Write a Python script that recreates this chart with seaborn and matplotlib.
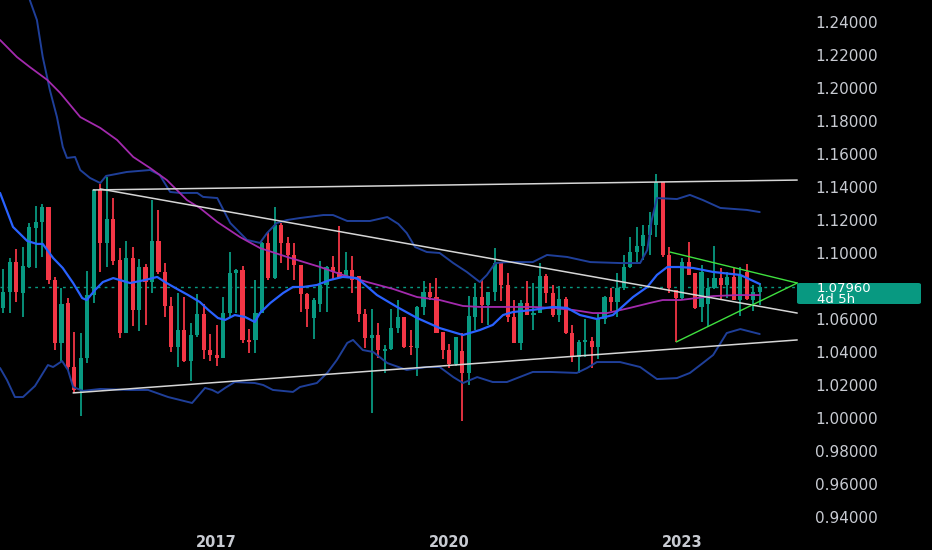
import matplotlib
matplotlib.use("Agg")
import matplotlib.pyplot as plt
from matplotlib.patches import FancyBboxPatch
import seaborn as sns
import pandas as pd
import numpy as np

# monthly candles, Apr 2014 .. Jan 2024
opens = [1.0665, 1.0766, 1.0945, 1.0756, 1.0917, 1.1150, 1.1190, 1.1277, 1.0836, 1.0457,
         1.0695, 1.0311, 1.0170, 1.0366, 1.0746, 1.1382, 1.1063, 1.1206, 1.0958, 1.0517,
         1.0968, 1.0655, 1.0913, 1.0822, 1.1073, 1.0887, 1.0679, 1.0432, 1.0533, 1.0348,
         1.0503, 1.0630, 1.0412, 1.0382, 1.0362, 1.0634, 1.0877, 1.0897, 1.0473, 1.0473,
         1.0638, 1.1063, 1.0851, 1.1170, 1.1063, 1.0988, 1.0927, 1.0752, 1.0604, 1.0689,
         1.0806, 1.0917, 1.0887, 1.0853, 1.0897, 1.0861, 1.0630, 1.0487, 1.0503, 1.0408,
         1.0416, 1.0547, 1.0614, 1.0438, 1.0422, 1.0675, 1.0766, 1.0735, 1.0519, 1.0412,
         1.0327, 1.0408, 1.0275, 1.0614, 1.0735, 1.0685, 1.0761, 1.0941, 1.0806, 1.0614,
         1.0452, 1.0699, 1.0624, 1.0638, 1.0860, 1.0759, 1.0624, 1.0719, 1.0513, 1.0372,
         1.0463, 1.0469, 1.0432, 1.0598, 1.0735, 1.0705, 1.0786, 1.0918, 1.1009, 1.1043,
         1.1109, 1.1170, 1.1433, 1.0988, 1.0776, 1.0725, 1.0947, 1.0877, 1.0675, 1.0689,
         1.0786, 1.0846, 1.0806, 1.0856, 1.0715, 1.0887, 1.0715, 1.0762]
highs = [1.0901, 1.0968, 1.1024, 1.1034, 1.1180, 1.1285, 1.1295, 1.1277, 1.0853, 1.0786,
         1.0725, 1.0519, 1.0513, 1.0891, 1.1386, 1.1418, 1.1463, 1.1335, 1.1028, 1.1073,
         1.1038, 1.0962, 1.0933, 1.1321, 1.1261, 1.0937, 1.0731, 1.0760, 1.0735, 1.0574,
         1.0752, 1.0691, 1.0507, 1.0564, 1.0735, 1.1008, 1.0903, 1.0923, 1.0537, 1.0836,
         1.1069, 1.1129, 1.1281, 1.1184, 1.1099, 1.1059, 1.0927, 1.0756, 1.0725, 1.0954,
         1.0921, 1.0982, 1.1164, 1.1008, 1.0982, 1.0861, 1.0659, 1.0659, 1.0574, 1.0442,
         1.0658, 1.0715, 1.0614, 1.0533, 1.0679, 1.0830, 1.0816, 1.0850, 1.0519, 1.0448,
         1.0493, 1.0517, 1.0739, 1.0816, 1.0836, 1.0761, 1.1032, 1.0947, 1.0881, 1.0715,
         1.0715, 1.0830, 1.0816, 1.0937, 1.0873, 1.0806, 1.0800, 1.0731, 1.0564, 1.0473,
         1.0600, 1.0489, 1.0630, 1.0739, 1.0786, 1.0877, 1.0988, 1.1099, 1.1160, 1.1170,
         1.1251, 1.1479, 1.1433, 1.1035, 1.0776, 1.0972, 1.1069, 1.0877, 1.0927, 1.0846,
         1.1044, 1.0907, 1.0883, 1.0907, 1.0917, 1.0931, 1.0806, 1.0816]
lows = [1.0634, 1.0638, 1.0705, 1.0614, 1.0907, 1.0907, 1.0974, 1.0812, 1.0412, 1.0348,
        1.0291, 1.0150, 1.0012, 1.0335, 1.0695, 1.0887, 1.0913, 1.0927, 1.0487, 1.0513,
        1.0558, 1.0529, 1.0564, 1.0756, 1.0873, 1.0614, 1.0398, 1.0307, 1.0338, 1.0226,
        1.0493, 1.0356, 1.0348, 1.0317, 1.0362, 1.0614, 1.0634, 1.0457, 1.0392, 1.0392,
        1.0634, 1.0836, 1.0841, 1.0941, 1.0897, 1.0836, 1.0645, 1.0554, 1.0477, 1.0645,
        1.0645, 1.0836, 1.0847, 1.0853, 1.0756, 1.0580, 1.0422, 1.0033, 1.0362, 1.0271,
        1.0412, 1.0513, 1.0422, 1.0382, 1.0256, 1.0624, 1.0715, 1.0517, 1.0355, 1.0301,
        1.0317, 0.9984, 1.0200, 1.0533, 1.0578, 1.0563, 1.0709, 1.0709, 1.0584, 1.0452,
        1.0412, 1.0624, 1.0533, 1.0634, 1.0699, 1.0614, 1.0584, 1.0509, 1.0341, 1.0271,
        1.0372, 1.0305, 1.0355, 1.0570, 1.0650, 1.0614, 1.0776, 1.0908, 1.0948, 1.0958,
        1.0988, 1.1099, 1.0978, 1.0755, 1.0463, 1.0715, 1.0867, 1.0661, 1.0580, 1.0554,
        1.0782, 1.0721, 1.0725, 1.0715, 1.0620, 1.0715, 1.0648, 1.0685]
closes = [1.0766, 1.0945, 1.0766, 1.0923, 1.1156, 1.1190, 1.1277, 1.0836, 1.0457, 1.0691,
          1.0311, 1.0170, 1.0366, 1.0746, 1.1382, 1.1063, 1.1206, 1.0954, 1.0517, 1.0968,
          1.0655, 1.0913, 1.0822, 1.1073, 1.0887, 1.0679, 1.0432, 1.0533, 1.0348, 1.0503,
          1.0630, 1.0412, 1.0382, 1.0362, 1.0634, 1.0877, 1.0897, 1.0473, 1.0463, 1.0638,
          1.1063, 1.0851, 1.1170, 1.1063, 1.0988, 1.0927, 1.0752, 1.0659, 1.0715, 1.0806,
          1.0917, 1.0887, 1.0853, 1.0897, 1.0836, 1.0630, 1.0483, 1.0503, 1.0412, 1.0418,
          1.0547, 1.0614, 1.0432, 1.0432, 1.0675, 1.0766, 1.0735, 1.0517, 1.0412, 1.0327,
          1.0493, 1.0275, 1.0618, 1.0735, 1.0685, 1.0761, 1.0941, 1.0806, 1.0614, 1.0452,
          1.0699, 1.0624, 1.0638, 1.0860, 1.0759, 1.0624, 1.0719, 1.0513, 1.0372, 1.0463,
          1.0469, 1.0432, 1.0598, 1.0735, 1.0705, 1.0786, 1.0918, 1.1009, 1.1043, 1.1109,
          1.1170, 1.1433, 1.0988, 1.0786, 1.0725, 1.0947, 1.0867, 1.0669, 1.0887, 1.0786,
          1.0846, 1.0806, 1.0856, 1.0715, 1.0867, 1.0721, 1.0762, 1.0796]

# indicator lines (bar index, price)
basis_x = [-0.5, 1.5, 3.7, 5.2, 6.1, 7.7, 9.2, 10.8, 12.2, 12.9, 14.2, 15.4, 17.0, 19.6, 21.9,
           23.8, 25.0, 26.6, 28.6, 30.4, 31.7, 33.2, 34.3, 35.8, 37.4, 38.9, 39.7, 41.3, 43.3,
           44.8, 46.4, 48.5, 50.5, 52.5, 54.7, 56.0, 57.8, 60.9, 64.0, 67.5, 71.1, 73.7, 75.7,
           77.3, 78.8, 81.9, 85.0, 87.2, 89.2, 91.8, 94.3, 97.4, 99.6, 101.1, 102.7, 104.7,
           106.7, 109.8, 114.0, 117.0]
basis_y = [1.1364, 1.1158, 1.1073, 1.1055, 1.1055, 1.0970, 1.0909, 1.0818, 1.0727, 1.0715,
           1.0776, 1.0824, 1.0848, 1.0818, 1.0836, 1.0855, 1.0824, 1.0788, 1.0745, 1.0703,
           1.0655, 1.0606, 1.0594, 1.0624, 1.0612, 1.0582, 1.0636, 1.0697, 1.0758, 1.0794,
           1.0794, 1.0806, 1.0836, 1.0855, 1.0848, 1.0806, 1.0745, 1.0673, 1.0606, 1.0545,
           1.0503, 1.0533, 1.0564, 1.0624, 1.0642, 1.0655, 1.0673, 1.0667, 1.0624, 1.0600,
           1.0624, 1.0733, 1.0794, 1.0867, 1.0915, 1.0915, 1.0909, 1.0885, 1.0867, 1.0812]

upper_x = [3.0, 4.1, 5.2, 6.1, 7.2, 8.3, 9.2, 9.85, 11.1, 11.9, 13.4, 15.0, 15.9, 19.1, 22.7,
           24.2, 25.8, 27.3, 30.0, 30.9, 33.1, 35.1, 37.7, 39.7, 40.8, 42.3, 43.9, 45.9, 49.5,
           51.0, 53.2, 56.7, 59.4, 61.1, 62.4, 63.7, 65.5, 67.5, 69.6, 71.7, 73.7, 74.8, 76.1,
           77.9, 81.9, 84.1, 87.2, 90.8, 95.4, 98.5, 99.6, 100.3, 101.1, 104.2, 106.2, 108.2,
           110.9, 115.0, 117.0]
upper_y = [1.2750, 1.2533, 1.2412, 1.2188, 1.1988, 1.1824, 1.1643, 1.1576, 1.1582, 1.1503,
           1.1455, 1.1424, 1.1467, 1.1491, 1.1503, 1.1473, 1.1370, 1.1364, 1.1364, 1.1340,
           1.1333, 1.1182, 1.1079, 1.1061, 1.1121, 1.1182, 1.1200, 1.1212, 1.1230, 1.1230,
           1.1194, 1.1194, 1.1218, 1.1176, 1.1121, 1.1036, 1.1006, 1.1000, 1.0939, 1.0885,
           1.0824, 1.0867, 1.0939, 1.0945, 1.0945, 1.0988, 1.0976, 1.0945, 1.0939, 1.0939,
           1.1018, 1.1200, 1.1333, 1.1327, 1.1352, 1.1321, 1.1273, 1.1261, 1.1248]

lower_x = [-0.5, 0.57, 1.8, 3.05, 4.9, 6.9, 7.7, 9.1, 10.0, 10.8, 12.3, 15.0, 19.6, 22.4, 25.5,
           29.2, 31.2, 32.3, 33.2, 34.3, 35.8, 38.9, 40.2, 41.7, 44.8, 45.9, 48.5, 50.1, 51.6,
           53.2, 54.1, 55.6, 57.2, 59.4, 62.4, 65.5, 67.5, 69.6, 71.1, 73.3, 75.7, 77.9, 81.9,
           84.6, 88.7, 90.3, 91.8, 95.4, 98.5, 101.1, 104.2, 106.2, 108.2, 109.8, 111.9, 114.0,
           117.0]
lower_y = [1.0303, 1.0230, 1.0127, 1.0127, 1.0194, 1.0321, 1.0309, 1.0345, 1.0291, 1.0188,
           1.0164, 1.0176, 1.0170, 1.0170, 1.0127, 1.0091, 1.0182, 1.0170, 1.0152, 1.0182,
           1.0218, 1.0212, 1.0200, 1.0170, 1.0158, 1.0188, 1.0212, 1.0273, 1.0352, 1.0455,
           1.0473, 1.0412, 1.0400, 1.0333, 1.0291, 1.0309, 1.0309, 1.0248, 1.0212, 1.0248,
           1.0218, 1.0218, 1.0279, 1.0279, 1.0273, 1.0303, 1.0339, 1.0339, 1.0309, 1.0236,
           1.0242, 1.0273, 1.0333, 1.0382, 1.0515, 1.0539, 1.0509]

slow_x = [-0.5, 2.1, 4.1, 6.8, 8.8, 11.9, 15.0, 17.6, 20.1, 22.7, 25.3, 28.4, 30.4, 33.1, 36.6,
          39.7, 43.9, 49.0, 52.5, 56.3, 60.3, 64.0, 67.5, 71.1, 73.7, 76.8, 81.9, 85.0, 88.1,
          91.2, 93.4, 96.9, 100.0, 102.0, 104.7, 109.8, 113.5, 117.0]
slow_y = [1.2291, 1.2188, 1.2127, 1.2049, 1.1970, 1.1824, 1.1758, 1.1685, 1.1582, 1.1515,
          1.1442, 1.1321, 1.1273, 1.1188, 1.1097, 1.1030, 1.0976, 1.0915, 1.0867, 1.0824,
          1.0782, 1.0733, 1.0715, 1.0679, 1.0673, 1.0673, 1.0673, 1.0667, 1.0655, 1.0636,
          1.0636, 1.0667, 1.0697, 1.0715, 1.0715, 1.0739, 1.0745, 1.0745]

# drawn trendlines: (x0, y0, x1, y1)
white_lines = [(13.9, 1.1382, 122.8, 1.1442),
               (15.0, 1.1388, 122.8, 1.0636),
               (10.8, 1.0152, 122.8, 1.0473)]
green_lines = [(103.1, 1.1006, 122.8, 1.0818),
               (104.1, 1.0461, 122.8, 1.0818)]

price_ticks = [1.24, 1.22, 1.20, 1.18, 1.16, 1.14, 1.12, 1.10, 1.06, 1.04, 1.02,
               1.00, 0.98, 0.96, 0.94]
year_labels = [2017, 2020, 2023]
countdown = "4d 5h"

UP, DOWN = "#089981", "#f23645"

df = pd.DataFrame({"date": pd.date_range("2014-04-01", periods=len(opens), freq="MS"),
                   "open": opens, "high": highs, "low": lows, "close": closes})
df["i"] = np.arange(len(df))
df["up"] = df["close"] >= df["open"]
df["col"] = np.where(df["up"], UP, DOWN)

sns.set_theme(style="dark", rc={"axes.facecolor": "black", "figure.facecolor": "black"})
plt.rcParams["font.family"] = ["DejaVu Sans"]

fig = plt.figure(figsize=(9.32, 5.5), dpi=100)
ax = fig.add_axes([0, 22 / 550, 800 / 932, 528 / 550])
ax.set_facecolor("black")

# candles
ax.vlines(df["i"], df["low"], df["high"], colors=df["col"], linewidth=1.3, zorder=2)
body = (df["close"] - df["open"]).abs().clip(lower=0.0007)
ax.bar(df["i"], body, bottom=df[["open", "close"]].min(axis=1), width=0.64,
       color=df["col"], linewidth=0, zorder=3)

# indicators
sns.lineplot(x=upper_x, y=upper_y, ax=ax, color="#1f3f99", lw=1.4, zorder=4, estimator=None)
sns.lineplot(x=lower_x, y=lower_y, ax=ax, color="#1f3f99", lw=1.4, zorder=4, estimator=None)
sns.lineplot(x=slow_x, y=slow_y, ax=ax, color="#a32aad", lw=1.3, zorder=4, estimator=None)
sns.lineplot(x=basis_x, y=basis_y, ax=ax, color="#2962ff", lw=1.6, zorder=5, estimator=None)

for x0, y0, x1, y1 in white_lines:
    ax.plot([x0, x1], [y0, y1], color="#d6d6d6", lw=1.1, zorder=6)
for x0, y0, x1, y1 in green_lines:
    ax.plot([x0, x1], [y0, y1], color="#3fe03f", lw=1.0, zorder=6)

last = closes[-1]
ax.axhline(last, color=UP, lw=1.0, ls=(0, (2, 3)), zorder=1)

ax.set_xlim(-0.51, 123.23)
ax.set_ylim(0.93333, 1.25333)
ax.grid(False)
for s in ax.spines.values():
    s.set_visible(False)

ax.yaxis.tick_right()
ax.set_yticks(price_ticks)
ax.set_yticklabels([f"{p:.5f}" for p in price_ticks])
ax.tick_params(axis="y", length=0, pad=11, labelsize=11, labelcolor="#c8cbd2")

tick_pos = [int(df.index[(df["date"].dt.year == y) & (df["date"].dt.month == 1)][0]) for y in year_labels]
ax.set_xticks(tick_pos)
ax.set_xticklabels([str(y) for y in year_labels], fontweight="bold")
ax.tick_params(axis="x", length=0, pad=5, labelsize=10.5, labelcolor="#c8cbd2")
ax.set_xlabel("")
ax.set_ylabel("")

# last price label with countdown
box = FancyBboxPatch((797 / 932, 1 - 304 / 550), 124 / 932, 21 / 550,
                     boxstyle="round,pad=0,rounding_size=0.003",
                     transform=fig.transFigure, facecolor=UP, edgecolor="none", zorder=10)
fig.add_artist(box)
fig.text(817 / 932, 1 - 294 / 550, f"{last:.5f}\n{countdown}", color="white",
         fontsize=9.5, linespacing=0.85, va="center", ha="left", zorder=11)

fig.savefig("out.png", dpi=100, facecolor="black")
